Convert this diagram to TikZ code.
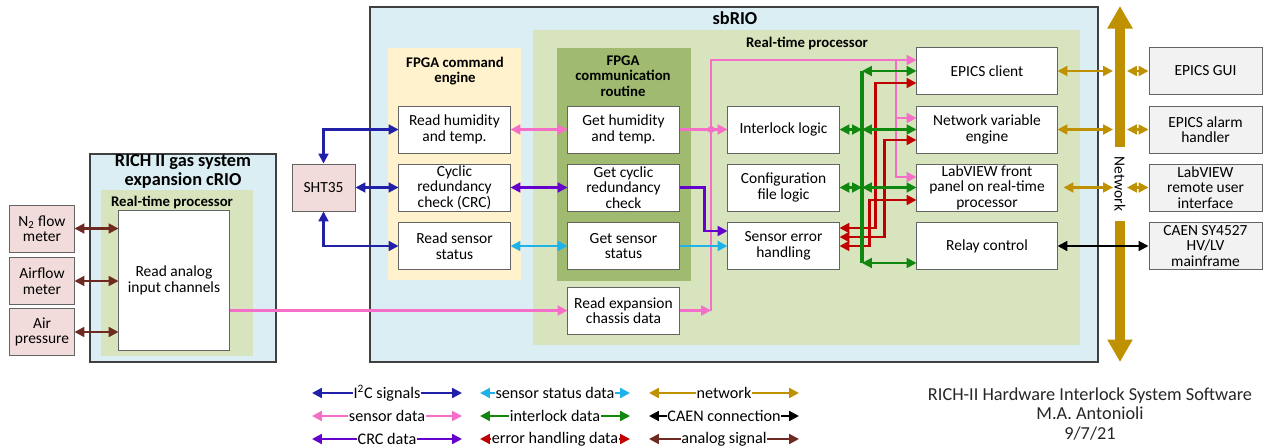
\documentclass[tikz,border=0pt]{standalone}
\usepackage{fontspec}
\setmainfont{Carlito}
\usepackage{xcolor}
\definecolor{azuli2c}{RGB}{32,32,168}
\definecolor{rosasensor}{RGB}{245,110,200}
\definecolor{moradocrc}{RGB}{102,0,204}
\definecolor{cianestado}{RGB}{30,178,232}
\definecolor{verdeinter}{RGB}{16,136,16}
\definecolor{rojoerror}{RGB}{192,0,0}
\definecolor{dorado}{RGB}{191,144,0}
\definecolor{cafeanalog}{RGB}{110,42,32}
\definecolor{fondosb}{RGB}{218,238,243}
\definecolor{fondort}{RGB}{215,228,189}
\definecolor{fondocmd}{RGB}{255,242,204}
\definecolor{fondocom}{RGB}{160,186,112}
\definecolor{rosacaja}{RGB}{242,220,219}
\definecolor{griscaja}{RGB}{242,242,242}
\definecolor{bordecaja}{RGB}{100,100,100}
\definecolor{bordemarco}{RGB}{64,64,64}
\usepackage{tikz}
\usetikzlibrary{positioning, arrows.meta, calc}

\tikzset{
  caja/.style={draw=bordecaja, fill=white, line width=0.7pt, align=center, inner sep=1pt,
    minimum width=2.775cm, minimum height=1.175cm, font=\fontsize{11}{11}\selectfont},
  cajarosa/.style={caja, fill=rosacaja, minimum width=1.6cm},
  cajagris/.style={caja, fill=griscaja, minimum width=2.825cm},
  titulo/.style={font=\bfseries\fontsize{10.5}{11}\selectfont, align=center},
  flecha/.style={line width=1.5pt, >={Triangle[length=7pt,width=7pt]}},
  i2c/.style={flecha, azuli2c},
  sensor/.style={flecha, rosasensor},
  crc/.style={flecha, moradocrc},
  estado/.style={flecha, cianestado},
  inter/.style={flecha, verdeinter},
  error/.style={flecha, rojoerror},
  red/.style={flecha, dorado},
  caen/.style={flecha, black},
  analog/.style={flecha, cafeanalog}
}

\begin{document}
\begin{tikzpicture}[x=0.025cm, y=-0.025cm]
        \useasboundingbox (0,0) rectangle (1265,448);
        % Marcos de fondo
        \draw[draw=bordemarco, line width=1pt, fill=fondosb] (370,7) rectangle (1098,362);
        \fill[fondort] (533,30) rectangle (1080,345);
        \fill[fondocmd] (388,48) rectangle (521,280);
        \fill[fondocom] (557,48) rectangle (691,281);
        \draw[draw=bordemarco, line width=1pt, fill=fondosb] (90,154) rectangle (276,362);
        \fill[fondort] (101,190) rectangle (253,356);
        \node[titulo, font=\bfseries\fontsize{13}{13}\selectfont] (tsb) at (735,18) {sbRIO};
        \node[titulo] (trt) at (807,43) {Real-time processor};
        \node[titulo] (tcmd) at (455,71) {FPGA command\\engine};
        \node[titulo] (tcom) at (623,76) {FPGA\\communication\\routine};
        \node[titulo, font=\bfseries\fontsize{13}{13.5}\selectfont] (tcrio) at (183,171) {RICH II gas system\\expansion cRIO};
        \node[titulo] (trt2) at (172,202) {Real-time processor};

        % Cajas
        \node[caja] (rhum) at (454.5,129.5) {Read humidity\\and temp.};
        \node[caja] (rcrc) at (454.5,187.5) {Cyclic\\redundancy\\check (CRC)};
        \node[caja] (rss) at (454.5,246) {Read sensor\\status};
        \node[caja] (ghum) at (623.5,129.5) {Get humidity\\and temp.};
        \node[caja] (gcrc) at (623.5,187.5) {Get cyclic\\redundancy\\check};
        \node[caja] (gss) at (623.5,246) {Get sensor\\status};
        \node[caja] (rexp) at (623.5,310.5) {Read expansion\\chassis data};
        \node[caja] (ilog) at (783.5,129.5) {Interlock logic};
        \node[caja] (cfl) at (783.5,187.5) {Configuration\\file logic};
        \node[caja] (seh) at (783.5,246) {Sensor error\\handling};
        \node[caja, minimum width=3.5cm] (epc) at (987,71) {EPICS client};
        \node[caja, minimum width=3.5cm] (nve) at (987,129.5) {Network variable\\engine};
        \node[caja, minimum width=3.5cm] (lfp) at (987,187.5) {LabVIEW front\\panel on real-time\\processor};
        \node[caja, minimum width=3.5cm] (relay) at (987,246) {Relay control};
        \node[cajagris] (egui) at (1205.5,71) {EPICS GUI};
        \node[cajagris] (eah) at (1205.5,129.5) {EPICS alarm\\handler};
        \node[cajagris] (lrui) at (1205.5,187.5) {LabVIEW\\remote user\\interface};
        \node[cajagris] (caenbox) at (1205.5,246) {CAEN SY4527\\HV/LV\\mainframe};
        \node[cajarosa, minimum width=1.575cm] (sht) at (323.5,187.5) {SHT35};
        \node[cajarosa] (n2) at (42,228.5) {N\textsubscript{2} flow\\meter};
        \node[cajarosa] (afm) at (42,281) {Airflow\\meter};
        \node[cajarosa] (apr) at (42,332) {Air\\pressure};
        \node[caja, minimum width=2.75cm, minimum height=3.475cm] (rac) at (174,280.5) {Read analog\\input channels};

        % Senales analogicas e I2C
        \foreach \s in {n2, afm, apr} {
            \draw[analog, <->] (\s.east) -- (\s.east -| rac.west);
        }
        \draw[i2c, <->] (sht.north) |- (rhum.west);
        \draw[i2c, <->] (sht.east) -- (rcrc.west);
        \draw[i2c, <->] (sht.south) |- (rss.west);
        \draw[sensor, <->] (rhum.east) -- (ghum.west);
        \draw[crc, <->] (rcrc.east) -- (gcrc.west);
        \draw[estado, <->] (rss.east) -- (gss.west);

        % Datos de sensores
        \coordinate (pkt) at (711,60);
        \coordinate (pkr) at (896,60);
        \draw[sensor, ->] (rac.east |- rexp.west) -- (rexp.west);
        \draw[sensor, ->] (rexp.east) -- (rexp.east -| pkt);
        \draw[sensor, ->] (rexp.east -| pkt) -- (pkt) -- ($(epc.west)+(0,-11)$);
        \draw[sensor, ->] (pkr) |- ($(nve.west)+(0,-11.5)$);
        \draw[sensor, ->] (pkr) |- ($(lfp.west)+(0,-10.5)$);
        \draw[sensor, ->] (ghum.east) -- (ilog.west);
        \fill[rosasensor] (ghum.east -| pkt) circle (3.5);
        \draw[crc, ->] (gcrc.east) -- ++(25,0) |- ($(seh.west)+(0,-15)$);
        \draw[estado, ->] (gss.east) -- (seh.west);

        % Manejo de errores
        \draw[error, <->] ($(seh.east)+(0,-18)$) -| ($(epc.west)+(-41,12)$) -- ($(epc.west)+(0,12)$);
        \draw[error, <->] ($(seh.east)+(0,-9)$) -| ($(nve.west)+(-32,10.5)$) -- ($(nve.west)+(0,10.5)$);
        \draw[error, <->] (seh.east) -| ($(lfp.west)+(-47,12.5)$) -- ($(lfp.west)+(0,12.5)$);

        % Bus de interlock
        \coordinate (gbt) at (862,71);
        \coordinate (gbb) at (862,263);
        \draw[inter, <->] (gbt) -- (epc.west);
        \draw[inter, <->] (ilog.east) -- (ilog.east -| gbt);
        \draw[inter, <->] (ilog.east -| gbt) -- (nve.west);
        \draw[inter, <->] (cfl.east) -- (cfl.east -| gbt);
        \draw[inter, <->] (cfl.east -| gbt) -- (lfp.west);
        \draw[inter, <->] (gbb) -- (gbb -| relay.west);
        \draw[verdeinter, line width=3pt] (gbt) -- (gbb);

        % Red
        \coordinate (nett) at (1120,6);
        \coordinate (netb) at (1120,362);
        \draw[dorado, line width=7pt, {Triangle[length=16pt,width=17pt]}-{Triangle[length=16pt,width=17pt]}] (nett) -- (netb);
        \node[fill=white, rotate=-90, inner xsep=7pt, inner ysep=0.5pt, font=\fontsize{11}{11}\selectfont] (netlab) at (1120,184) {Network};
        \draw[red, <->] (epc.east) -- ($(epc.east -| nett)+(-7,0)$);
        \draw[red, <->] (nve.east) -- ($(nve.east -| nett)+(-7,0)$);
        \draw[red, <->] ($(lfp.east)+(6,0)$) -- ($(lfp.east -| nett)+(-7,0)$);
        \draw[red, <->] ($(egui.west -| nett)+(7,0)$) -- (egui.west);
        \draw[red, <->] ($(eah.west -| nett)+(7,0)$) -- (eah.west);
        \draw[red, <->] ($(lrui.west -| nett)+(7,0)$) -- (lrui.west);
        \draw[caen, <->] (relay.east) -- (caenbox.west);

        % Leyenda
        \foreach \col/\texto/\xc/\yc [count=\i] in {
            azuli2c/I\textsuperscript{2}C signals/387/393, rosasensor/sensor data/387/416, moradocrc/CRC data/387/439,
            cianestado/sensor status data/555/393, verdeinter/interlock data/555/416, rojoerror/error handling data/555/439,
            dorado/network/724/393, black/CAEN connection/724/416, cafeanalog/analog signal/724/439} {
            \draw[flecha, color=\col, <->] (\xc-75,\yc) -- (\xc+75,\yc)
                node[midway, fill=white, text=black, inner xsep=0.5pt, inner ysep=0pt, font=\fontsize{11.5}{11.5}\selectfont] (ley\i) {\texto};
        }
        \node[align=center, text=black!85, font=\fontsize{13}{13.8}\selectfont] (autor) at (1090,414) {RICH-II Hardware Interlock System Software\\M.A. Antonioli\\9/7/21};
    \end{tikzpicture}
\end{document}
